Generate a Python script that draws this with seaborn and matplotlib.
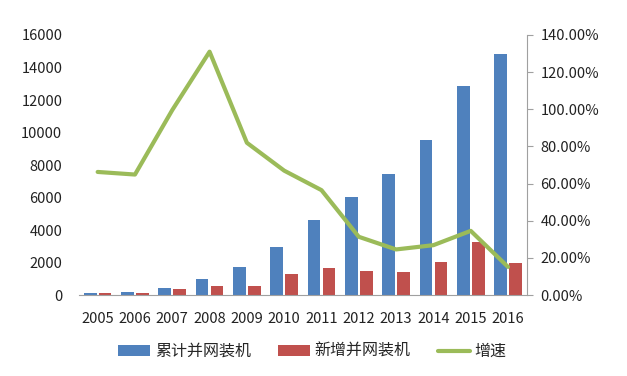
import pandas as pd
import matplotlib.pyplot as plt
import seaborn as sns
from matplotlib.ticker import PercentFormatter

years = ['2005', '2006', '2007', '2008', '2009', '2010', '2011', '2012', '2013', '2014', '2015', '2016']
cumulative = [130, 200, 430, 965, 1720, 2950, 4650, 6030, 7480, 9570, 12870, 14860]
new_added = [110, 120, 350, 575, 575, 1330, 1640, 1500, 1415, 2030, 3280, 1950]
growth = [66.3, 64.9, 99.6, 131.0, 82.0, 67.0, 56.5, 31.4, 24.6, 26.9, 34.6, 15.2]

sns.set_style('white')
plt.rcParams['font.family'] = ['Noto Sans CJK SC', 'DejaVu Sans']

df = pd.DataFrame({'年份': years * 2,
                   '数量': cumulative + new_added,
                   '类别': ['累计并网装机'] * len(years) + ['新增并网装机'] * len(years)})

fig = plt.figure(figsize=(6.27, 3.76), dpi=100)
ax = fig.add_axes([0.126, 0.215, 0.714, 0.692])
sns.barplot(data=df, x='年份', y='数量', hue='类别', palette=['#4F81BD', '#C0504D'],
            width=0.8, gap=0.15, saturation=1, linewidth=0, ax=ax)
ax.set_xlabel('')
ax.set_ylabel('')
ax.set_ylim(0, 16000)
ax.set_xlim(-0.5, 11.5)
ax.set_yticks(range(0, 16001, 2000))
for s in ['top', 'left', 'right']:
    ax.spines[s].set_visible(False)
ax.spines['bottom'].set_color('#A0A0A0')
ax.tick_params(axis='both', length=0, labelsize=10.5, colors='#222222')
ax.tick_params(axis='x', pad=12)
ax.tick_params(axis='y', pad=12)

ax2 = ax.twinx()
ax2.plot(range(len(years)), growth, color='#9BBB59', linewidth=3, label='增速')
ax2.set_ylim(0, 140)
ax2.set_yticks(range(0, 141, 20))
ax2.yaxis.set_major_formatter(PercentFormatter(decimals=2))
for s in ['top', 'left', 'bottom']:
    ax2.spines[s].set_visible(False)
ax2.spines['right'].set_color('#A0A0A0')
ax2.tick_params(axis='y', length=4, color='#A0A0A0', labelsize=10.5, colors='#222222', pad=6)

h1, l1 = ax.get_legend_handles_labels()
h2, l2 = ax2.get_legend_handles_labels()
ax.legend_.remove()
fig.legend(h1 + h2, l1 + l2, loc='center', bbox_to_anchor=(0.498, 0.065), ncol=3,
           frameon=False, fontsize=11.5, handlelength=2.0, handleheight=0.6,
           handletextpad=0.3, columnspacing=1.7)

fig.savefig('out.png', dpi=100)
